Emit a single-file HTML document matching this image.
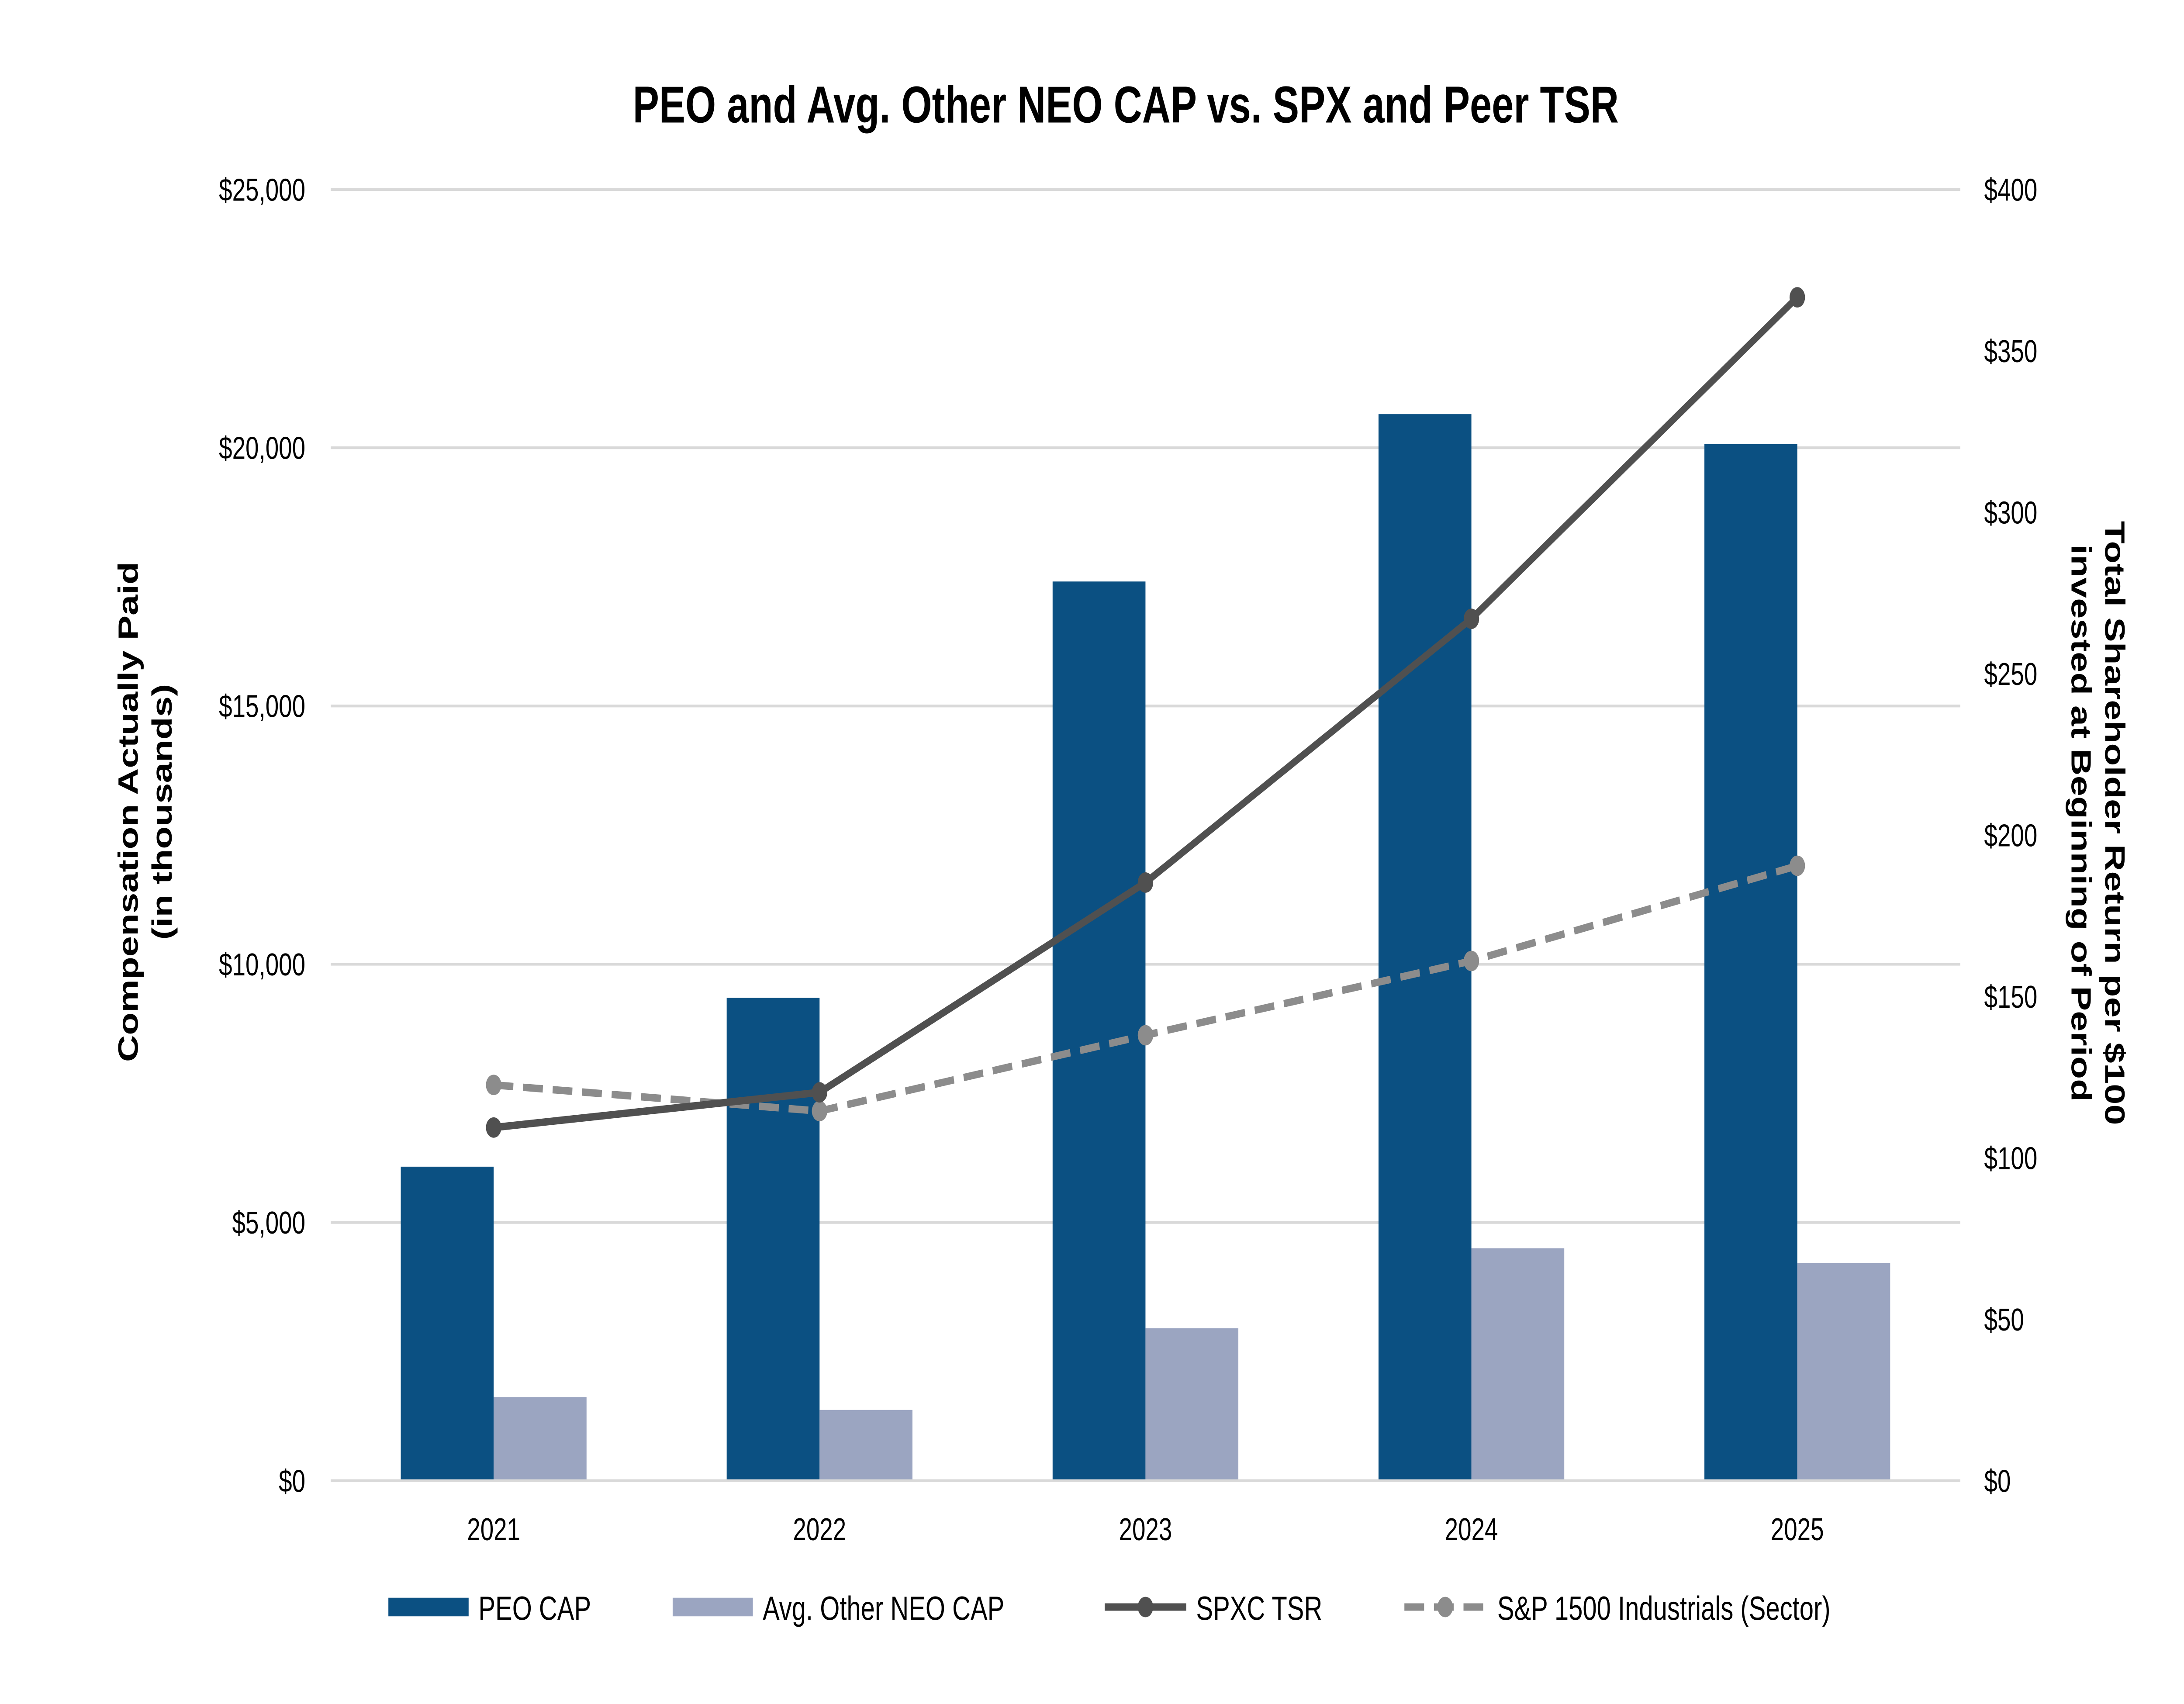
<!DOCTYPE html>
<html><head><meta charset="utf-8"><style>
html,body{margin:0;padding:0;background:#fff;width:100%;height:100%;overflow:hidden}
svg{display:block;font-family:"Liberation Sans",Arial,sans-serif;width:100vw;height:100vh}
</style></head><body>
<svg id="chart" viewBox="0 0 1552 917.2" preserveAspectRatio="none">
<rect width="1552" height="917.2" fill="#fff"/>
<text x="800" y="66" text-anchor="middle" font-size="28" font-weight="bold" fill="#000">PEO and Avg. Other NEO CAP vs. SPX and Peer TSR</text>
<g id="grid"></g><g id="bars"></g><g id="lines"></g><g id="axes"></g>
<text transform="translate(98,437) rotate(-90)" text-anchor="middle" font-size="20" font-weight="bold"><tspan x="0" dy="0">Compensation Actually Paid</tspan><tspan x="0" dy="24">(in thousands)</tspan></text>
<text transform="translate(1496,443) rotate(90)" text-anchor="middle" font-size="20" font-weight="bold"><tspan x="0" dy="0">Total Shareholder Return per $100</tspan><tspan x="0" dy="24">invested at Beginning of Period</tspan></text>
<g font-size="18">
<rect x="276" y="860" width="57" height="10" fill="#0b5082"/>
<text x="340" y="872">PEO CAP</text>
<rect x="478" y="860" width="57" height="10" fill="#9ba5c1"/>
<text x="542" y="872">Avg. Other NEO CAP</text>
<line x1="785" y1="865" x2="843" y2="865" stroke="#505050" stroke-width="4"/>
<circle cx="814" cy="865" r="5.5" fill="#505050"/>
<text x="850" y="872">SPXC TSR</text>
<line x1="998" y1="865" x2="1056" y2="865" stroke="#8c8c8c" stroke-width="4" stroke-dasharray="14,7"/>
<circle cx="1027" cy="865" r="5.5" fill="#8c8c8c"/>
<text x="1064" y="872">S&amp;P 1500 Industrials (Sector)</text>
</g>
</svg>
<script>
const categories=["2021","2022","2023","2024","2025"];
const peoCap=[6080,9350,17410,20650,20070];
const neoCap=[1620,1370,2950,4500,4210];
const spxcTsr=[109.4,120.3,185.3,267,366.6];
const spTsr=[122.6,114.5,138,161,190.5];
const leftTicks=[0,5000,10000,15000,20000,25000];
const rightTicks=[0,50,100,150,200,250,300,350,400];
const NS="http://www.w3.org/2000/svg";
const L=235,R=1393,T=102,B=797;
const yL=v=>B-(v/25000)*(B-T);
const yR=v=>B-(v/400)*(B-T);
const band=(R-L)/categories.length;
const xC=i=>L+band*(i+0.5);
function mk(tag,attrs,parent){const e=document.createElementNS(NS,tag);for(const k in attrs)e.setAttribute(k,attrs[k]);document.getElementById(parent).appendChild(e);return e;}
const fmt=v=>"$"+v.toLocaleString("en-US");
leftTicks.forEach(v=>{
 const g=mk("line",{x1:L,x2:R,y1:yL(v),y2:yL(v),stroke:"#d9d9d9","stroke-width":1.5},"grid");
 
 
 const t=mk("text",{x:217,y:yL(v)+6,"text-anchor":"end","font-size":17},"axes");t.textContent=fmt(v);
 
 
});
rightTicks.forEach(v=>{
 const t=mk("text",{x:1410,y:yR(v)+6,"font-size":17},"axes");t.textContent="$"+v;
 
 
});
categories.forEach((c,i)=>{
 const t=mk("text",{x:xC(i),y:829,"text-anchor":"middle","font-size":17},"axes");t.textContent=c;
 
 
 const bw=66;
 const b1=mk("rect",{x:xC(i)-bw,y:yL(peoCap[i]),width:bw,height:B-yL(peoCap[i]),fill:"#0b5082"},"bars");
 
 
 const b2=mk("rect",{x:xC(i),y:yL(neoCap[i]),width:bw,height:B-yL(neoCap[i]),fill:"#9ba5c1"},"bars");
 
 
});
function series(vals,color,dash,name){
 const p=mk("polyline",{points:vals.map((v,i)=>xC(i)+","+yR(v)).join(" "),fill:"none",stroke:color,"stroke-width":4,"stroke-dasharray":dash},"lines");
 
 
 vals.forEach((v,i)=>{const c=mk("circle",{cx:xC(i),cy:yR(v),r:5.5,fill:color},"lines");
 
 });
}
series(spTsr,"#8c8c8c","14,7","sp1500-tsr");
series(spxcTsr,"#505050","none","spxc-tsr");
const ax=mk("line",{x1:L,x2:R,y1:B,y2:B,stroke:"#d9d9d9","stroke-width":1.5},"axes");


</script>
</body></html>
